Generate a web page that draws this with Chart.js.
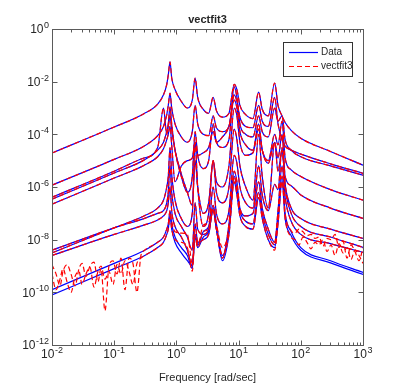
<!DOCTYPE html>
<html>
<head>
<meta charset="utf-8">
<title>vectfit3</title>
<script src="https://cdn.jsdelivr.net/npm/chart.js@4.4.0/dist/chart.umd.min.js"></script>
<style>
    html, body { margin: 0; padding: 0; background: #fff; }
    #wrap { width: 402px; height: 388px; }
</style>
</head>
<body>
<div id="wrap"><canvas id="chart" width="402" height="388"></canvas></div>
<script>
// frequency grid [rad/sec] shared by the responses
const freq = [0.01, 0.1, 0.3, 0.5, 0.62, 0.7, 0.74, 0.79, 0.84, 0.95,
    1.2, 1.5, 1.8, 2.0, 2.2, 2.7, 3.3, 3.9, 4.4, 5.5,
    7, 8.5, 9.4, 10.5, 13, 17, 21, 24, 30, 38,
    43, 50, 56, 70, 100, 300, 1000];

// magnitudes, stored as log10|H|
const hA = [-4.71, -3.72, -3.22, -2.85, -2.5, -2.1, -1.75, -1.25, -1.85, -2.3,
    -2.75, -3.0, -2.7, -1.86, -2.6, -3.05, -3.2, -2.6, -3.1, -3.35,
    -3.2, -2.1, -2.3, -2.9, -3.25, -3.4, -2.4, -3.05, -3.3, -2.05,
    -2.9, -3.3, -3.55, -3.85, -4.15, -4.65, -5.17];
const hB = [-5.93, -4.95, -4.45, -4.05, -3.7, -3.25, -2.9, -2.43, -3.0, -3.6,
    -4.1, -4.3, -3.9, -2.9, -3.6, -4.0, -4.05, -3.3, -3.75, -3.9,
    -3.7, -2.5, -2.75, -3.35, -3.7, -3.75, -2.9, -3.5, -3.7, -2.6,
    -3.6, -4.2, -4.45, -4.6, -4.75, -5.12, -5.48];
const hC = [-6.39, -5.4, -4.9, -4.5, -3.0, -4.0, -3.6, -2.97, -3.6, -4.6,
    -5.6, -6.2, -5.6, -3.9, -4.8, -5.3, -5.0, -3.6, -4.3, -4.5,
    -4.2, -2.2, -2.6, -3.6, -4.0, -4.1, -3.3, -3.9, -4.1, -3.0,
    -3.5, -3.3, -4.2, -4.6, -4.85, -5.2, -5.55];
const hD = [-6.46, -5.47, -4.98, -4.6, -4.3, -3.9, -3.7, -3.3, -3.8, -4.6,
    -5.5, -6.2, -6.7, -5.0, -6.0, -7.0, -6.6, -5.0, -5.8, -6.0,
    -5.2, -3.0, -3.3, -4.3, -4.8, -4.7, -3.8, -4.6, -5.0, -4.0,
    -4.4, -3.5, -4.9, -5.35, -5.6, -6.1, -6.5];
const hE = [-6.65, -5.66, -5.18, -4.85, -4.55, -4.2, -4.0, -3.7, -4.4, -5.8,
    -5.2, -5.0, -4.9, -4.3, -4.8, -4.7, -4.5, -3.9, -4.3, -4.1,
    -3.7, -2.7, -3.0, -3.9, -4.4, -4.6, -3.6, -4.6, -5.1, -4.3,
    -4.9, -4.0, -5.6, -5.95, -6.3, -6.8, -7.19];
const hJ = [-8.5, -7.55, -7.1, -6.8, -6.5, -6.0, -5.6, -4.5, -5.5, -6.5,
    -7.2, -7.5, -7.0, -4.3, -6.0, -7.5, -7.0, -5.0, -6.2, -6.6,
    -6.0, -3.8, -4.2, -5.2, -6.0, -6.5, -4.0, -5.6, -6.8, -4.3,
    -5.4, -4.6, -5.9, -6.8, -7.2, -7.6, -7.95];
const hF = [-8.4, -7.55, -7.2, -7.0, -6.9, -6.6, -6.2, -5.2, -6.2, -7.0,
    -7.5, -7.9, -8.4, -6.6, -7.6, -7.8, -7.6, -6.0, -7.0, -7.4,
    -6.9, -4.8, -5.1, -6.0, -6.6, -6.8, -5.2, -6.3, -6.9, -5.9,
    -6.1, -4.5, -6.0, -7.0, -7.5, -7.9, -8.29];
const hG = [-8.6, -7.8, -7.45, -7.25, -7.1, -6.9, -6.6, -6.0, -6.9, -7.5,
    -7.9, -8.4, -9.0, -7.4, -8.1, -8.0, -7.8, -6.8, -7.6, -8.7,
    -7.4, -5.4, -5.8, -6.8, -7.1, -7.0, -5.8, -6.8, -7.6, -8.1,
    -6.9, -5.2, -6.4, -7.3, -7.8, -8.15, -8.48];
const hH = [-9.9, -8.9, -8.42, -8.1, -7.9, -7.6, -7.4, -6.9, -7.4, -7.9,
    -8.3, -8.6, -9.1, -7.8, -8.2, -7.7, -7.5, -6.7, -7.4, -8.6,
    -7.6, -5.6, -6.1, -6.9, -7.3, -7.4, -6.2, -7.0, -7.8, -8.2,
    -7.2, -5.6, -7.0, -7.7, -8.3, -8.8, -9.24];
const hI = [-10.1, -9.1, -8.62, -8.3, -8.1, -7.8, -7.6, -7.1, -7.6, -8.1,
    -8.5, -8.8, -9.0, -7.9, -8.3, -7.9, -7.7, -6.9, -7.6, -8.8,
    -7.8, -5.8, -6.3, -7.1, -7.5, -7.6, -6.4, -7.2, -8.0, -8.3,
    -7.4, -5.8, -7.2, -7.85, -8.4, -8.88, -9.32];

// where the fit of the two smallest responses departs from the data
const lowNoiseF = [0.01, 0.0116, 0.01345, 0.01503, 0.01743, 0.0202, 0.02343, 0.02717, 0.0304, 0.0352,
    0.0408, 0.0473, 0.0549, 0.0613, 0.0711, 0.0824, 0.0956, 0.1108, 0.1285, 0.149,
    0.173, 0.2, 0.232, 0.269];
const hLowNoise = [-8.95, -9.3, -9.75, -9.2, -8.95, -9.3, -9.75, -9.1, -8.9, -9.4,
    -9.0, -8.85, -9.6, -9.1, -10.7, -9.0, -8.8, -9.3, -8.7, -9.9,
    -8.7, -8.9, -10.0, -8.6];
const iLowNoise = [-9.3, -9.9, -9.5, -9.1, -9.6, -10.0, -9.4, -9.2, -9.7, -9.3,
    -9.05, -9.8, -9.2, -9.0, -9.5, -9.2, -9.7, -8.95, -9.3, -8.8,
    -9.2, -9.7, -8.9, -8.7];
const freqMid = freq.slice(2, 33);
const hFitMid = [-8.42, -8.1, -7.9, -7.6, -7.4, -6.9, -7.3, -7.7,
    -7.75, -7.8, -8.9, -7.8, -8.2, -7.45, -7.35, -6.7, -7.4, -8.3,
    -7.6, -5.6, -6.1, -6.9, -7.3, -7.4, -6.2, -7.0, -7.8, -8.2,
    -7.2, -5.6, -7.0];
const iFitMid = [-8.62, -8.3, -8.1, -7.8, -7.6, -7.1, -7.6, -8.0,
    -8.1, -8.3, -9.2, -7.9, -8.3, -7.7, -7.6, -6.9, -7.6, -8.6,
    -7.8, -5.8, -6.3, -7.1, -7.5, -7.6, -6.4, -7.2, -8.0, -8.4,
    -7.4, -5.8, -7.2];
const highNoiseF = [69.5, 80.7, 93.5, 108.4, 125.8, 145.9, 169.1, 196.2, 227.5, 263.8,
    306, 354.8, 411.4, 476.9, 553, 641, 743, 862, 1000];
const hHighNoise = [-7.65, -7.75, -7.6, -7.7, -7.85, -7.8, -7.95, -7.9, -8.25, -7.95,
    -8.0, -7.8, -8.3, -8.05, -8.7, -8.2, -8.45, -8.8, -8.3];
const iHighNoise = [-7.9, -8.0, -8.2, -7.9, -8.1, -8.35, -8.1, -8.2, -8.0, -8.45,
    -8.2, -8.6, -8.15, -8.5, -8.3, -8.75, -8.4, -8.6, -8.9];

// axis ticks
const xTickExp = [-2, -1, 0, 1, 2, 3];
const yTickExp = [0, -2, -4, -6, -8, -10, -12];

function toPoints(fs, logs) {
    return fs.map((f, i) => ({ x: f, y: Math.pow(10, logs[i]) }));
}

const dataCurves = [hA, hB, hC, hD, hE, hJ, hF, hG, hH, hI].map(h => toPoints(freq, h));
const fitCurves = [hA, hB, hC, hD, hE, hJ, hF, hG].map(h => toPoints(freq, h));
fitCurves.push(toPoints(lowNoiseF, hLowNoise).concat(toPoints(freqMid, hFitMid), toPoints(highNoiseF, hHighNoise)));
fitCurves.push(toPoints(lowNoiseF, iLowNoise).concat(toPoints(freqMid, iFitMid), toPoints(highNoiseF, iHighNoise)));

const BLUE = '#0000ff';
const RED = '#ff0000';
const AXIS = '#5a5a5a';
const TEXT = '#262626';
const FONT = '"Liberation Sans", Arial, sans-serif';

const datasets = [];
fitCurves.forEach(pts => {
    datasets.push({
        label: 'vectfit3', data: pts, borderColor: RED, borderWidth: 1.2,
        borderDash: [5, 3], pointRadius: 0, fill: false,
        cubicInterpolationMode: 'monotone', order: 0
    });
});
dataCurves.forEach(pts => {
    datasets.push({
        label: 'Data', data: pts, borderColor: BLUE, borderWidth: 1.2,
        pointRadius: 0, fill: false,
        cubicInterpolationMode: 'monotone', order: 1
    });
});

function drawPow(ctx, exp, x, y, align) {
    // "10" with a raised exponent; y is the visual centre of the "10"
    ctx.font = '12px ' + FONT;
    const w10 = ctx.measureText('10').width;
    ctx.font = '9px ' + FONT;
    const e = String(exp);
    const we = ctx.measureText(e).width;
    const total = w10 + we + 0.5;
    const left = align === 'right' ? x - total : x - total / 2;
    ctx.textAlign = 'left';
    ctx.textBaseline = 'alphabetic';
    ctx.font = '12px ' + FONT;
    ctx.fillText('10', left, y + 4.3);
    ctx.font = '9px ' + FONT;
    ctx.fillText(e, left + w10 + 0.5, y - 1);
}

const matlabAxes = {
    id: 'matlabAxes',
    afterDraw(chart) {
        const ctx = chart.ctx;
        const xs = chart.scales.x, ys = chart.scales.y;
        const a = chart.chartArea;
        const L = Math.round(a.left) + 0.5, R = Math.round(a.right) + 0.5;
        const T = Math.round(a.top) + 0.5, B = Math.round(a.bottom) + 0.5;
        ctx.save();
        ctx.strokeStyle = AXIS;
        ctx.lineWidth = 1;
        ctx.strokeRect(L, T, R - L, B - T);

        ctx.beginPath();
        // x ticks, major and minor, on bottom and top
        xTickExp.forEach(p => {
            const px = Math.round(xs.getPixelForValue(Math.pow(10, p))) + 0.5;
            ctx.moveTo(px, B); ctx.lineTo(px, B - 5);
            ctx.moveTo(px, T); ctx.lineTo(px, T + 5);
            if (p < 3) {
                for (let k = 2; k < 10; k++) {
                    const mx = Math.round(xs.getPixelForValue(k * Math.pow(10, p))) + 0.5;
                    ctx.moveTo(mx, B); ctx.lineTo(mx, B - 3);
                    ctx.moveTo(mx, T); ctx.lineTo(mx, T + 3);
                }
            }
        });
        // y ticks on left and right
        yTickExp.forEach(p => {
            const py = Math.round(ys.getPixelForValue(Math.pow(10, p))) + 0.5;
            ctx.moveTo(L, py); ctx.lineTo(L + 5, py);
            ctx.moveTo(R, py); ctx.lineTo(R - 5, py);
        });
        ctx.stroke();

        ctx.fillStyle = TEXT;
        xTickExp.forEach(p => drawPow(ctx, p, xs.getPixelForValue(Math.pow(10, p)), 354, 'center'));
        yTickExp.forEach(p => drawPow(ctx, p, a.left - 3, ys.getPixelForValue(Math.pow(10, p)), 'right'));

        ctx.textAlign = 'center';
        ctx.textBaseline = 'alphabetic';
        ctx.font = 'bold 11px ' + FONT;
        ctx.fillText('vectfit3', (a.left + a.right) / 2, 23);
        ctx.font = '11px ' + FONT;
        ctx.fillText('Frequency [rad/sec]', (a.left + a.right) / 2, 381);

        // legend
        const lx = 283.5, ly = 42.5, lw = 69, lh = 34;
        ctx.fillStyle = '#fff';
        ctx.fillRect(lx, ly, lw, lh);
        ctx.strokeStyle = '#333';
        ctx.strokeRect(lx, ly, lw, lh);
        const items = [chart.data.datasets[fitCurves.length], chart.data.datasets[0]];
        items.forEach((ds, i) => {
            const y = 52.5 + i * 14;
            ctx.beginPath();
            ctx.strokeStyle = ds.borderColor;
            ctx.lineWidth = 1.2;
            ctx.setLineDash(ds.borderDash || []);
            ctx.moveTo(289, y); ctx.lineTo(318, y);
            ctx.stroke();
            ctx.setLineDash([]);
            ctx.fillStyle = TEXT;
            ctx.font = '10px ' + FONT;
            ctx.textAlign = 'left';
            ctx.textBaseline = 'middle';
            ctx.fillText(ds.label, 321, y);
        });
        ctx.restore();
    }
};

new Chart(document.getElementById('chart'), {
    type: 'line',
    data: { datasets: datasets },
    options: {
        responsive: false,
        animation: false,
        layout: { padding: { left: 52, right: 39, top: 29, bottom: 43 } },
        plugins: { legend: { display: false }, tooltip: { enabled: false }, title: { display: false } },
        scales: {
            x: { type: 'logarithmic', min: 0.01, max: 1000, display: false },
            y: { type: 'logarithmic', min: 1e-12, max: 1, display: false }
        }
    },
    plugins: [matlabAxes]
});
</script>
</body>
</html>
